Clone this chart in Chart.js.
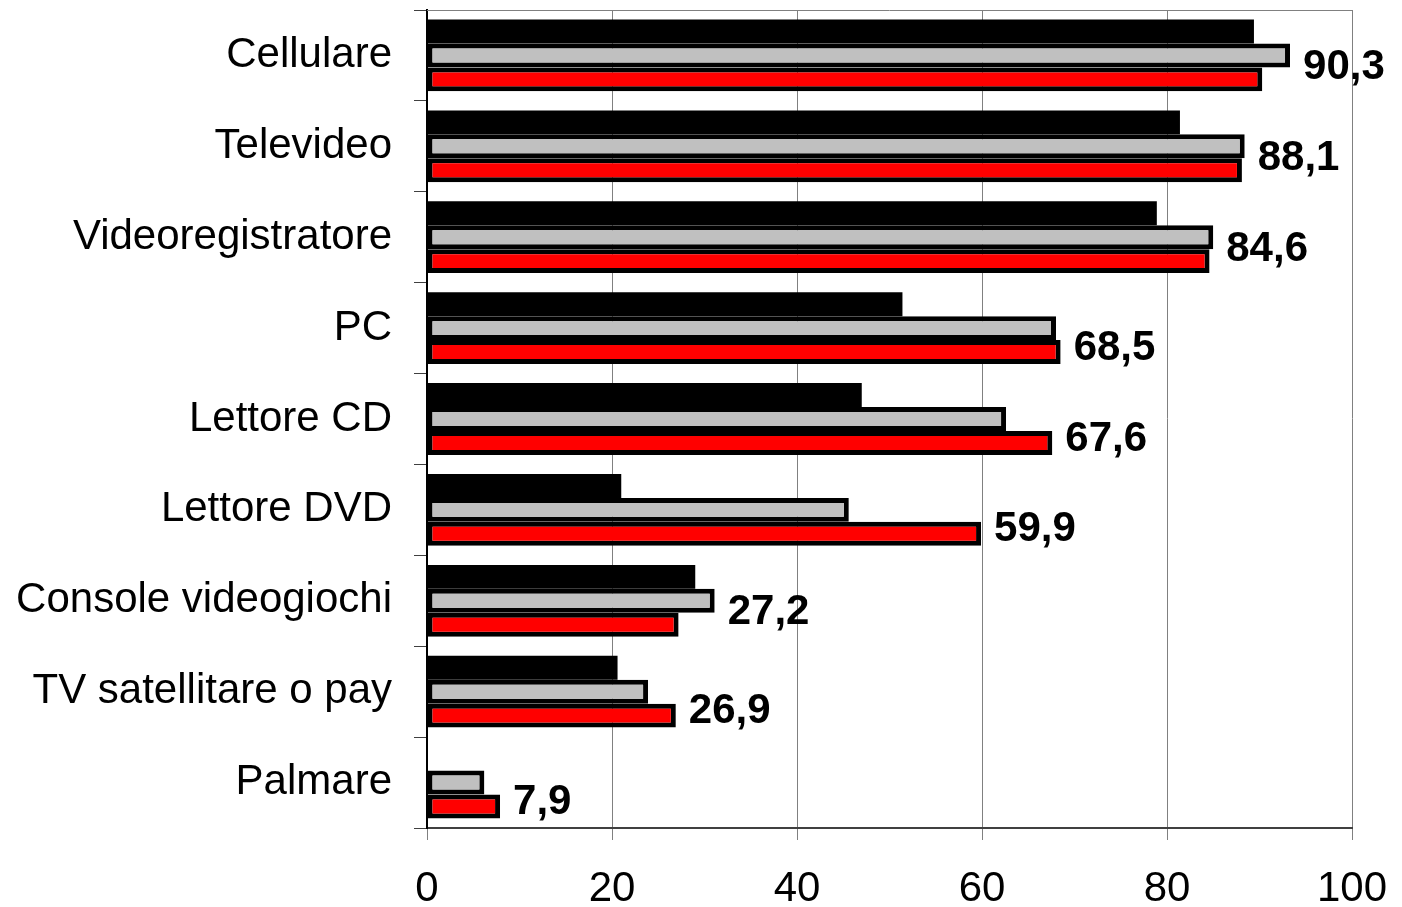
<!DOCTYPE html>
<html>
<head>
<meta charset="utf-8">
<script src="https://cdn.jsdelivr.net/npm/chart.js@4/dist/chart.umd.min.js"></script>
<style>
  html, body { margin: 0; padding: 0; background: #fff; }
  #wrap { width: 1402px; height: 907px; }
</style>
</head>
<body>
<div id="wrap"><canvas id="grafico"></canvas></div>
<script>
// dati (valori in %)
const categorie = [
    'Cellulare', 'Televideo', 'Videoregistratore', 'PC', 'Lettore CD',
    'Lettore DVD', 'Console videogiochi', 'TV satellitare o pay', 'Palmare',
];
const serieNera = [89.4, 81.4, 78.9, 51.4, 47.0, 21.0, 29.0, 20.6, null];
const serieGrigia = [93.3, 88.4, 85.0, 68.0, 62.6, 45.6, 31.1, 23.9, 6.2];
const serieRossa = [90.3, 88.1, 84.6, 68.5, 67.6, 59.9, 27.2, 26.9, 7.9];
const tickAsseX = [0, 20, 40, 60, 80, 100];

const FONT = '"Liberation Sans", Arial, sans-serif';

// cornice grigia in alto + etichette della serie rossa
const cornice = {
    id: 'cornice',
    beforeDatasetsDraw(chart) {
        const { ctx, chartArea: a } = chart;
        ctx.save();
        ctx.strokeStyle = '#808080';
        ctx.lineWidth = 1;
        ctx.beginPath();
        ctx.moveTo(a.left, a.top + 0.5);
        ctx.lineTo(a.right, a.top + 0.5);
        ctx.stroke();
        ctx.restore();
    },
    afterDatasetsDraw(chart) {
        const { ctx } = chart;
        const x = chart.scales.x;
        const rossa = chart.getDatasetMeta(2).data;
        ctx.save();
        ctx.font = 'bold 42px ' + FONT;
        ctx.fillStyle = '#000';
        ctx.textAlign = 'left';
        ctx.textBaseline = 'middle';
        serieRossa.forEach((v, i) => {
            const max = Math.max(v, serieGrigia[i] || 0, serieNera[i] || 0);
            const px = x.getPixelForValue(max) + 13;
            const alzo = (serieGrigia[i] || 0) > v ? 12 : 4;
            ctx.fillText(String(v).replace('.', ','), px, rossa[i].y - alzo);
        });
        ctx.restore();
    },
};

new Chart(document.getElementById('grafico'), {
    type: 'bar',
    data: {
        labels: categorie,
        datasets: [
            {
                label: 'Serie 1',
                data: serieNera,
                backgroundColor: '#000000',
                borderWidth: 0,
            },
            {
                label: 'Serie 2',
                data: serieGrigia,
                backgroundColor: '#C0C0C0',
                borderColor: '#000000',
                borderWidth: 5,
                borderSkipped: false,
            },
            {
                label: 'Serie 3',
                data: serieRossa,
                backgroundColor: '#FF0000',
                borderColor: '#000000',
                borderWidth: 5,
                borderSkipped: false,
            },
        ],
    },
    options: {
        indexAxis: 'y',
        responsive: true,
        maintainAspectRatio: false,
        animation: false,
        categoryPercentage: 0.79,
        barPercentage: 1.0,
        layout: { padding: { top: 10, right: 50, left: 0, bottom: 0 } },
        scales: {
            x: {
                min: 0,
                max: 100,
                afterBuildTicks(scale) {
                    scale.ticks = tickAsseX.map(v => ({ value: v }));
                },
                afterFit(scale) {
                    scale.height = 79;
                    scale.paddingLeft = 0;
                    scale.paddingRight = 0;
                },
                grid: { color: '#808080', lineWidth: 1, tickLength: 12 },
                border: { color: '#404040', width: 2 },
                ticks: {
                    color: '#000',
                    padding: 24,
                    maxRotation: 0,
                    font: { family: FONT, size: 42 },
                },
            },
            y: {
                afterFit(scale) {
                    scale.width = 427;
                    scale.paddingTop = 0;
                    scale.paddingBottom = 0;
                },
                grid: {
                    drawOnChartArea: false,
                    drawTicks: true,
                    tickLength: 13,
                    color: '#404040',
                },
                border: { color: '#000', width: 2 },
                ticks: {
                    color: '#000',
                    padding: 22,
                    font: { family: FONT, size: 42 },
                },
            },
        },
        plugins: {
            legend: { display: false },
            tooltip: { enabled: false },
        },
    },
    plugins: [cornice],
});
</script>
</body>
</html>
